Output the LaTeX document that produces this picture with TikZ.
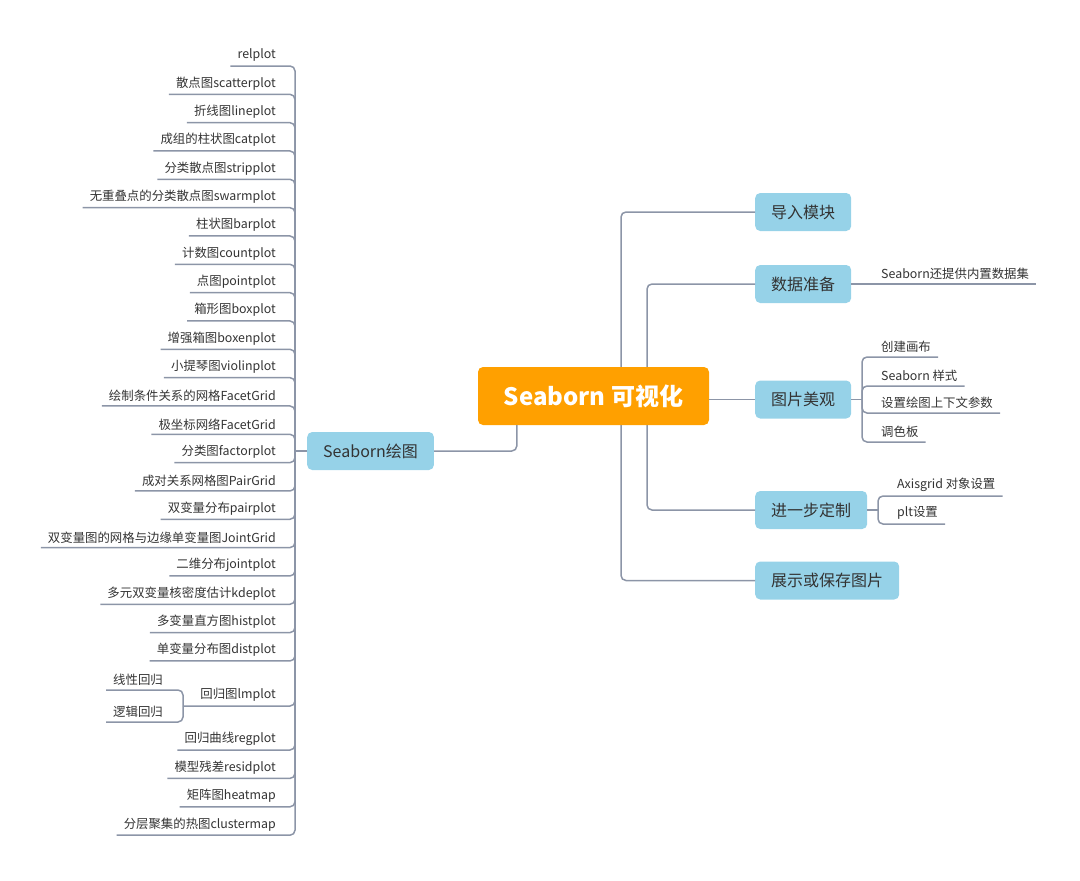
\documentclass[tikz,border=0pt]{standalone}
\usepackage{fontspec}
\setmainfont{Noto Sans CJK SC}
\definecolor{linec}{HTML}{8C95A7}
\definecolor{boxc}{HTML}{96D2E8}
\definecolor{orangec}{HTML}{FFA000}
\definecolor{txt}{HTML}{333333}
\tikzset{
  topic/.style={fill=boxc, rounded corners=5pt, text=txt, font=\fontsize{16}{19}\selectfont, minimum height=38pt, inner xsep=16pt},
  leaf/.style={text=txt, font=\fontsize{12.4}{15}\selectfont, inner xsep=7pt, inner ysep=4pt},
  conn/.style={draw=linec, line width=1.5pt, rounded corners=5pt},
}
\begin{document}
\begin{tikzpicture}[x=1pt,y=-1pt]
\useasboundingbox (0,0) rectangle (1080,881);
% ---------- left branch ----------
\node[topic, anchor=west] (sb) at (307,451) {Seaborn绘图};
\coordinate (sbj) at (295,451);
\draw[conn] (sb.west) -- (sbj);
\foreach \t [count=\i from 0] in {relplot, 散点图scatterplot, 折线图lineplot, 成组的柱状图catplot, 分类散点图stripplot, 无重叠点的分类散点图swarmplot, 柱状图barplot, 计数图countplot, 点图pointplot, 箱形图boxplot, 增强箱图boxenplot, 小提琴图violinplot, 绘制条件关系的网格FacetGrid, 极坐标网络FacetGrid, 分类图factorplot, 成对关系网格图PairGrid, 双变量分布pairplot, 双变量图的网格与边缘单变量图JointGrid, 二维分布jointplot, 多元双变量核密度估计kdeplot, 多变量直方图histplot, 单变量分布图distplot}{
  \node[leaf, anchor=south east] (l\i) at (283,66+28.33*\i) {\t};
  \draw[conn] (sbj) |- (l\i.south east) -- (l\i.south west);
}
\node[leaf, anchor=south east] (lm) at (283,706) {回归图lmplot};
\coordinate (lmj) at (183,706);
\draw[conn] (sbj) |- (lm.south east) -- (lmj);
\node[leaf, anchor=south east] (lc1) at (170,690) {线性回归};
\node[leaf, anchor=south east] (lc2) at (170,722) {逻辑回归};
\draw[conn] (lmj) |- (lc1.south east) -- (lc1.south west);
\draw[conn] (lmj) |- (lc2.south east) -- (lc2.south west);
\foreach \t [count=\i from 0] in {回归曲线regplot, 模型残差residplot, 矩阵图heatmap, 分层聚集的热图clustermap}{
  \node[leaf, anchor=south east] (m\i) at (283,750+28.4*\i) {\t};
  \draw[conn] (sbj) |- (m\i.south east) -- (m\i.south west);
}
% ---------- right branch ----------
\node[topic, anchor=west] (t1) at (755,212) {导入模块};
\node[topic, anchor=west] (t2) at (755,284) {数据准备};
\node[topic, anchor=west] (t3) at (755,399.5) {图片美观};
\node[topic, anchor=west] (t4) at (755,510) {进一步定制};
\node[topic, anchor=west] (t5) at (755,580.5) {展示或保存图片};
\coordinate (ra) at (621,399);
\coordinate (rb) at (647,399);
\draw[conn] (ra) |- (t1.west);
\draw[conn] (ra) |- (t5.west);
\draw[conn] (rb) |- (t2.west);
\draw[conn] (rb) |- (t4.west);
% root
\node[fill=orangec, rounded corners=5pt, text=white, font=\fontsize{24}{28}\selectfont\bfseries, minimum width=231pt, minimum height=58pt] (root) at (593.5,396) {Seaborn 可视化};
\draw[conn] ([xshift=39pt]root.south west) |- (sb.east);
\draw[conn] (root.east |- t3.west) -- (t3.west);
% data prep leaf
\node[leaf, anchor=south west] (d1) at (874,284) {Seaborn还提供内置数据集};
\draw[conn] (t2.east) -- (d1.south west) -- (d1.south east);
% picture style leaves
\coordinate (pj) at (862,399.5);
\draw[conn] (t3.east) -- (pj);
\node[leaf, anchor=south west] (p1) at (874,357) {创建画布};
\node[leaf, anchor=south west] (p2) at (874,386) {Seaborn 样式};
\node[leaf, anchor=south west] (p3) at (874,413) {设置绘图上下文参数};
\node[leaf, anchor=south west] (p4) at (874,442) {调色板};
\foreach \n in {p1,p2,p3,p4}{
  \draw[conn] (pj) |- (\n.south west) -- (\n.south east);
}
% customisation leaves
\coordinate (qj) at (878,510);
\draw[conn] (t4.east) -- (qj);
\node[leaf, anchor=south west] (q1) at (890,496) {Axisgrid 对象设置};
\node[leaf, anchor=south west] (q2) at (890,524) {plt设置};
\draw[conn] (qj) |- (q1.south west) -- (q1.south east);
\draw[conn] (qj) |- (q2.south west) -- (q2.south east);
\end{tikzpicture}
\end{document}
